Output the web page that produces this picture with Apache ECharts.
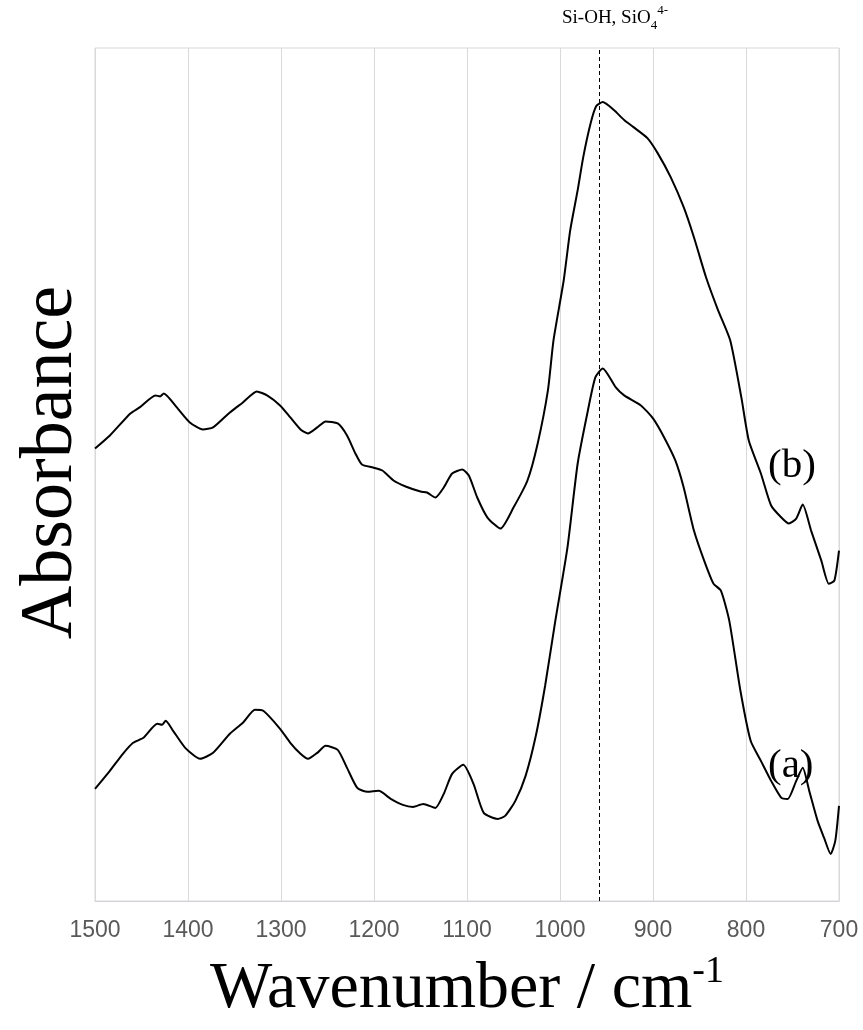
<!DOCTYPE html>
<html>
<head>
<meta charset="utf-8">
<script src="https://cdn.jsdelivr.net/npm/echarts@6/dist/echarts.min.js"></script>
<style>
html,body{margin:0;padding:0;background:#fff;}
#chart{width:863px;height:1030px;}
</style>
</head>
<body>
<div id="chart"></div>
<script>
// Wavenumber ticks (cm^-1)
const xTicks = [1500, 1400, 1300, 1200, 1100, 1000, 900, 800, 700];

// Spectrum (b) - upper trace
const waveB = [1500,1484,1462,1452,1435,1430,1426,1412,1398,1384,1373,1355,1341,1326,1315,1301,1290,1279,1271,1261,1252,1239,1229,1220,1213,1201,1191,1179,1166,1150,1143,1134,1125,1116,1105,1098,1089,1078,1064,1050,1035,1024,1013,1007,996,989,981,975,967,961,954,942,931,921,906,895,881,867,856,843,830,817,805,797,784,773,762,754,746,739,730,719,711,705,700];
const absB  = [4.52,4.65,4.87,4.93,5.05,5.04,5.07,4.93,4.78,4.71,4.73,4.88,4.98,5.09,5.05,4.95,4.83,4.71,4.67,4.73,4.79,4.77,4.65,4.47,4.36,4.33,4.30,4.20,4.14,4.09,4.08,4.03,4.13,4.27,4.31,4.25,4.03,3.83,3.72,3.93,4.20,4.57,5.10,5.60,6.20,6.70,7.10,7.43,7.77,7.94,7.98,7.90,7.80,7.73,7.62,7.47,7.23,6.93,6.63,6.23,5.90,5.60,5.03,4.60,4.27,3.95,3.83,3.77,3.82,3.96,3.70,3.40,3.17,3.20,3.50];

// Spectrum (a) - lower trace
const waveA = [1500,1484,1470,1459,1448,1433,1428,1424,1416,1403,1387,1373,1355,1341,1328,1319,1301,1290,1279,1271,1261,1252,1239,1229,1218,1207,1195,1182,1169,1158,1147,1134,1125,1116,1104,1093,1082,1067,1059,1048,1037,1026,1016,1005,992,981,970,962,954,940,931,913,900,888,876,867,856,845,835,827,818,806,795,784,773,762,755,746,739,732,723,716,709,704,700];
const absA  = [1.12,1.30,1.47,1.58,1.63,1.77,1.76,1.80,1.70,1.53,1.42,1.48,1.67,1.78,1.91,1.90,1.72,1.58,1.47,1.42,1.48,1.55,1.51,1.33,1.13,1.09,1.10,1.02,0.96,0.94,0.97,0.93,1.07,1.27,1.36,1.17,0.88,0.82,0.85,1.00,1.25,1.65,2.15,2.80,3.53,4.37,4.90,5.23,5.32,5.13,5.05,4.95,4.82,4.63,4.40,4.13,3.70,3.40,3.17,3.10,2.80,2.10,1.60,1.40,1.20,1.03,1.02,1.20,1.33,1.10,0.80,0.63,0.47,0.60,0.95];

// Band marker
const bandPosition = 958;

const serif = '"Liberation Serif", "Times New Roman", "DejaVu Serif", serif';
const sans = '"Liberation Sans", Arial, sans-serif';

const chart = echarts.init(document.getElementById('chart'), null, {renderer: 'canvas'});

const pairs = (xs, ys) => xs.map((x, i) => [x, ys[i]]);

chart.setOption({
  animation: false,
  backgroundColor: '#ffffff',
  grid: {
    left: 95, right: 24, top: 48, bottom: 129,
    containLabel: false, outerBoundsMode: 'none',
    show: true, borderColor: '#d9d9d9', borderWidth: 1, backgroundColor: 'transparent'
  },
  xAxis: {
    type: 'value',
    inverse: true,
    min: 700, max: 1500, interval: 100,
    axisLine: {show: true, lineStyle: {color: '#cfd2da', width: 1}},
    axisTick: {show: false},
    splitLine: {show: true, lineStyle: {color: '#d9d9d9', width: 1}},
    axisLabel: {
      color: '#595959', fontFamily: sans, fontSize: 23, margin: 18,
      formatter: v => xTicks.includes(v) ? String(v) : ''
    },
    name: '{t|Wavenumber / cm}{s|-1}',
    nameLocation: 'middle',
    nameGap: 52,
    nameTextStyle: {
      rich: {
        t: {fontFamily: serif, fontSize: 66, color: '#000', lineHeight: 70, verticalAlign: 'bottom'},
        s: {fontFamily: serif, fontSize: 38, color: '#000', lineHeight: 70, verticalAlign: 'top', padding: [0,0,28,0]}
      }
    }
  },
  yAxis: {
    type: 'value',
    min: 0, max: 8.52,
    axisLine: {show: false},
    axisTick: {show: false},
    axisLabel: {show: false},
    splitLine: {show: false},
    name: 'Absorbance',
    nameLocation: 'middle',
    nameRotate: 90,
    nameGap: 6,
    nameTextStyle: {fontFamily: serif, fontSize: 74, color: '#000', padding: [0, 0, 0, 24]}
  },
  series: [
    {
      name: '(b)', type: 'line', data: pairs(waveB, absB),
      symbol: 'none', smooth: 0.2,
      lineStyle: {color: '#000', width: 2},
      markLine: {
        silent: true, symbol: 'none',
        lineStyle: {color: '#000', type: [4, 3], width: 1},
        label: {show: false},
        data: [{xAxis: bandPosition}]
      }
    },
    {
      name: '(a)', type: 'line', data: pairs(waveA, absA),
      symbol: 'none', smooth: 0.2,
      lineStyle: {color: '#000', width: 2}
    }
  ],
  graphic: [
    {
      type: 'text', left: 562, top: 4,
      style: {
        text: '{m|Si-OH, SiO}{sub|4}{sup|4-}',
        rich: {
          m: {fontFamily: serif, fontSize: 19, fill: '#000', lineHeight: 28, verticalAlign: 'middle'},
          sub: {fontFamily: serif, fontSize: 13, fill: '#000', lineHeight: 28, verticalAlign: 'bottom'},
          sup: {fontFamily: serif, fontSize: 13, fill: '#000', lineHeight: 28, verticalAlign: 'top'}
        }
      }
    },
    {
      type: 'text', left: 768, top: 446,
      style: {text: '(b)', fontFamily: serif, fontSize: 41, fill: '#000'}
    },
    {
      type: 'text', left: 768, top: 746,
      style: {text: '(a)', fontFamily: serif, fontSize: 41, fill: '#000'}
    }
  ]
});
</script>
</body>
</html>
